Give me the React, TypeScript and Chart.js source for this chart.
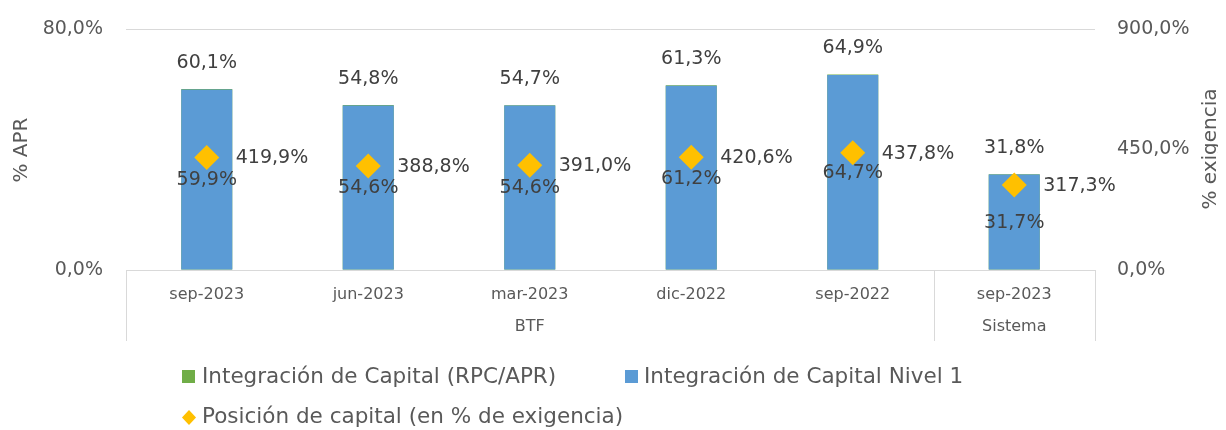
import React, { useEffect, useRef } from "react";
import { Chart, registerables } from "chart.js";

Chart.register(...registerables);

// ---- Data ----
const categories = ["sep-2023", "jun-2023", "mar-2023", "dic-2022", "sep-2022", "sep-2023"];
const groupLabels = ["BTF", "Sistema"];
const groupStarts = [0, 5];
const groupEnds = [4, 5];
const rpcApr = [60.1, 54.8, 54.7, 61.3, 64.9, 31.8];
const nivel1 = [59.9, 54.6, 54.6, 61.2, 64.7, 31.7];
const posicion = [419.9, 388.8, 391.0, 420.6, 437.8, 317.3];
const leftAxis = { min: 0, max: 80, step: 80 };
const rightAxis = { min: 0, max: 900, step: 450 };
const seriesNames = [
  "Integración de Capital (RPC/APR)",
  "Integración de Capital Nivel 1",
  "Posición de capital (en % de exigencia)",
];
const leftTitle = "% APR";
const rightTitle = "% exigencia";

const FONT = "'DejaVu Sans', sans-serif";
const GREEN = "#70AD47";
const BLUE = "#5B9BD5";
const GOLD = "#FFC000";
const AXIS_TEXT = "#595959";
const LABEL_TEXT = "#404040";
const LINE = "#D9D9D9";

const fmt = (v: number) => v.toFixed(1).replace(".", ",") + "%";

const overlayPlugin = {
  id: "overlay",
  afterDatasetsDraw(chart: any) {
    const ctx = chart.ctx;
    ctx.save();
    ctx.font = `19px ${FONT}`;
    ctx.fillStyle = LABEL_TEXT;
    ctx.textBaseline = "middle";
    const m0 = chart.getDatasetMeta(0);
    const m1 = chart.getDatasetMeta(1);
    const m2 = chart.getDatasetMeta(2);
    ctx.textAlign = "center";
    m0.data.forEach((el: any, i: number) => {
      ctx.fillText(fmt(rpcApr[i]), el.x, el.y - 26);
    });
    m1.data.forEach((el: any, i: number) => {
      ctx.fillText(fmt(nivel1[i]), el.x, (el.y + el.base) / 2 + 1);
    });
    ctx.textAlign = "left";
    m2.data.forEach((el: any, i: number) => {
      ctx.fillText(fmt(posicion[i]), el.x + 29, el.y + 1);
    });
    ctx.restore();
  },
  afterDraw(chart: any) {
    const ctx = chart.ctx;
    const area = chart.chartArea;
    const x = chart.scales.x;
    ctx.save();
    const bounds: number[] = [];
    const half = (x.getPixelForValue(1) - x.getPixelForValue(0)) / 2;
    ctx.strokeStyle = LINE;
    ctx.lineWidth = 1;
    ctx.fillStyle = AXIS_TEXT;
    ctx.font = `16px ${FONT}`;
    ctx.textAlign = "center";
    ctx.textBaseline = "middle";
    groupLabels.forEach((g, gi) => {
      const l = x.getPixelForValue(groupStarts[gi]) - half;
      const r = x.getPixelForValue(groupEnds[gi]) + half;
      bounds.push(l, r);
      ctx.fillText(g, (l + r) / 2, 319);
    });
    const uniq = Array.from(new Set(bounds.map((b) => Math.round(b))));
    uniq.forEach((b) => {
      ctx.beginPath();
      ctx.moveTo(b + 0.5, area.bottom);
      ctx.lineTo(b + 0.5, 333);
      ctx.stroke();
    });
    // axis titles
    ctx.font = `20px ${FONT}`;
    ctx.fillStyle = AXIS_TEXT;
    ctx.save();
    ctx.translate(14, 142);
    ctx.rotate(-Math.PI / 2);
    ctx.fillText(leftTitle, 0, 0);
    ctx.restore();
    ctx.save();
    ctx.translate(1203, 141);
    ctx.rotate(-Math.PI / 2);
    ctx.fillText(rightTitle, 0, 0);
    ctx.restore();
    // legend
    ctx.font = `21.5px ${FONT}`;
    ctx.textAlign = "left";
    ctx.fillStyle = GREEN;
    ctx.fillRect(174, 362, 13, 13);
    ctx.fillStyle = BLUE;
    ctx.fillRect(617, 362, 13, 13);
    ctx.fillStyle = GOLD;
    ctx.beginPath();
    ctx.moveTo(181, 402);
    ctx.lineTo(188, 409.5);
    ctx.lineTo(181, 417);
    ctx.lineTo(174, 409.5);
    ctx.closePath();
    ctx.fill();
    ctx.fillStyle = AXIS_TEXT;
    ctx.fillText(seriesNames[0], 194, 369);
    ctx.fillText(seriesNames[1], 636, 369);
    ctx.fillText(seriesNames[2], 194, 409);
    ctx.restore();
  },
};

export default function App() {
  const ref = useRef<HTMLCanvasElement | null>(null);
  useEffect(() => {
    if (!ref.current) return;
    const chart = new Chart(ref.current, {
      type: "bar",
      data: {
        labels: categories,
        datasets: [
          {
            label: seriesNames[0],
            data: rpcApr,
            backgroundColor: GREEN,
            grouped: false,
            order: 2,
            yAxisID: "y",
            barPercentage: 0.316,
            categoryPercentage: 1,
          } as any,
          {
            label: seriesNames[1],
            data: nivel1,
            backgroundColor: BLUE,
            grouped: false,
            order: 1,
            yAxisID: "y",
            barPercentage: 0.316,
            categoryPercentage: 1,
          } as any,
          {
            type: "line",
            label: seriesNames[2],
            data: posicion,
            yAxisID: "y1",
            showLine: false,
            pointStyle: "rectRot",
            pointRadius: 12.5,
            pointHoverRadius: 12.5,
            pointBackgroundColor: GOLD,
            pointBorderColor: GOLD,
            pointBorderWidth: 0,
            order: 0,
          } as any,
        ],
      },
      options: {
        animation: false,
        responsive: true,
        maintainAspectRatio: false,
        layout: { padding: { top: 21, left: 0, right: 0, bottom: 0 } },
        plugins: { legend: { display: false }, tooltip: { enabled: false } },
        scales: {
          x: {
            grid: { display: false, drawTicks: false },
            border: { display: true, color: LINE },
            ticks: {
              font: { family: FONT, size: 16 },
              color: AXIS_TEXT,
              padding: 15,
              maxRotation: 0,
              autoSkip: false,
            },
            afterFit: (s: any) => {
              s.height = 160;
              s.paddingLeft = 0;
              s.paddingRight = 0;
            },
          },
          y: {
            position: "left",
            min: leftAxis.min,
            max: leftAxis.max,
            ticks: {
              stepSize: leftAxis.step,
              callback: (v: any) => fmt(Number(v)),
              padding: 23,
              font: { family: FONT, size: 19 },
              color: AXIS_TEXT,
            },
            grid: { color: LINE, drawTicks: false },
            border: { display: false },
            afterFit: (s: any) => {
              s.width = 118;
              s.paddingTop = 0;
              s.paddingBottom = 0;
            },
          },
          y1: {
            position: "right",
            min: rightAxis.min,
            max: rightAxis.max,
            ticks: {
              stepSize: rightAxis.step,
              callback: (v: any) => fmt(Number(v)),
              padding: 22,
              font: { family: FONT, size: 19 },
              color: AXIS_TEXT,
            },
            grid: { display: false, drawTicks: false },
            border: { display: false },
            afterFit: (s: any) => {
              s.width = 123;
              s.paddingTop = 0;
              s.paddingBottom = 0;
            },
          },
        },
      } as any,
      plugins: [overlayPlugin],
    });
    return () => chart.destroy();
  }, []);
  return (
    <div style={{ position: "relative", width: 1210, height: 422 }}>
      <canvas ref={ref} />
    </div>
  );
}
